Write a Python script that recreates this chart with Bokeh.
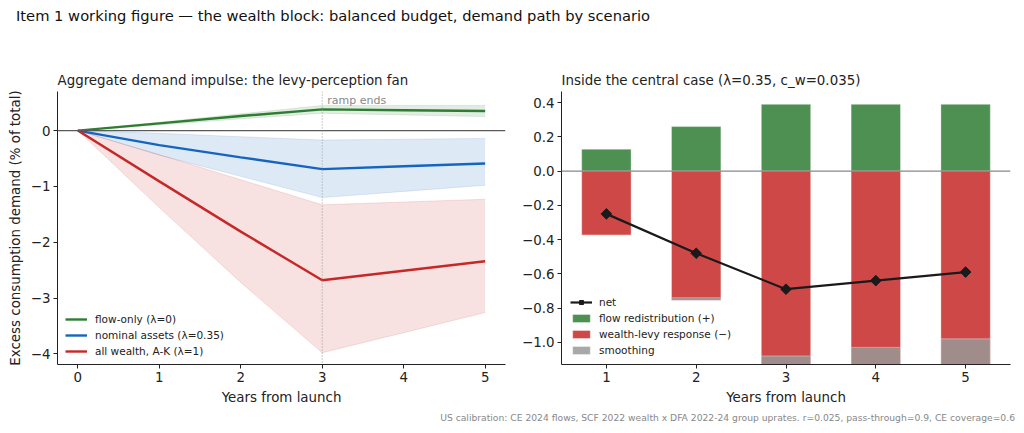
from bokeh.plotting import figure
from bokeh.models import (Range1d, Span, Label, Legend, LegendItem, FixedTicker,
                          CustomJSTickFormatter, Div)
from bokeh.layouts import row, column
from bokeh.embed import file_html
from bokeh.resources import INLINE

FONT = "DejaVu Sans"

# ---------------- data: left panel (levy-perception fan) ----------------
years_fan = [0, 1, 2, 3, 4, 5]
flow_only = [0, 0.13, 0.26, 0.38, 0.365, 0.35]
flow_only_hi = [0, 0.15, 0.30, 0.45, 0.45, 0.45]
flow_only_lo = [0, 0.10, 0.21, 0.31, 0.28, 0.25]
nominal = [0, -0.26, -0.48, -0.69, -0.64, -0.59]
nominal_hi = [0, -0.05, -0.11, -0.17, -0.155, -0.14]
nominal_lo = [0, -0.44, -0.82, -1.20, -1.09, -0.98]
allwealth = [0, -0.91, -1.81, -2.68, -2.51, -2.34]
allwealth_hi = [0, -0.43, -0.88, -1.33, -1.28, -1.23]
allwealth_lo = [0, -1.38, -2.72, -3.98, -3.62, -3.26]
fan_labels = ["flow-only (λ=0)", "nominal assets (λ=0.35)", "all wealth, A-K (λ=1)"]

# ---------------- data: right panel (central case decomposition) ----------------
years_bar = [1, 2, 3, 4, 5]
flow_redist = [0.128, 0.26, 0.39, 0.39, 0.39]
wealth_levy = [-0.375, -0.755, -1.20, -1.25, -1.30]
smoothing = [0.0, 0.015, 0.12, 0.22, 0.32]
net = [-0.25, -0.48, -0.69, -0.64, -0.59]
bar_labels = ["net", "flow redistribution (+)", "wealth-levy response (−)", "smoothing"]

GREEN, BLUE, RED = "#2e7d32", "#1565c0", "#c62828"
TXT = "#222222"


def style_axes(p):
    p.outline_line_color = None
    p.xgrid.visible = False
    p.ygrid.visible = False
    for ax in (p.xaxis[0], p.yaxis[0]):
        ax.axis_line_color = "#222222"
        ax.axis_line_width = 1
        ax.major_tick_line_color = "#222222"
        ax.major_tick_out = 4
        ax.major_tick_in = 0
        ax.minor_tick_line_color = None
        ax.major_label_text_font = FONT
        ax.major_label_text_font_size = "13.4px"
        ax.major_label_text_color = TXT
        ax.major_label_standoff = 3
        ax.axis_label_text_font = FONT
        ax.axis_label_text_font_size = "13.4px"
        ax.axis_label_text_font_style = "normal"
        ax.axis_label_text_color = TXT
    p.xaxis[0].axis_label_standoff = 5
    p.yaxis[0].axis_label_standoff = 5
    p.title.text_font = FONT
    p.title.text_font_size = "13.4px"
    p.title.text_font_style = "normal"
    p.title.text_color = TXT
    p.title.align = "left"
    p.title.standoff = 8


# ---------------- left figure ----------------
p1 = figure(width=505, height=370, output_backend="svg", toolbar_location=None,
            x_range=Range1d(-0.25, 5.25), y_range=Range1d(-4.19, 0.70),
            min_border_left=52, min_border_right=4, min_border_top=51, min_border_bottom=46,
            margin=(0, 0, 0, 4),
            title="Aggregate demand impulse: the levy-perception fan")
style_axes(p1)
p1.xaxis[0].axis_label = "Years from launch"
p1.yaxis[0].axis_label = "Excess consumption demand (% of total)"
p1.xaxis[0].ticker = FixedTicker(ticks=[0, 1, 2, 3, 4, 5])
p1.yaxis[0].ticker = FixedTicker(ticks=[-4, -3, -2, -1, 0])
p1.yaxis[0].formatter = CustomJSTickFormatter(code="return tick.toFixed(0).replace('-', '\u2212');")

line_items = []
for col, mid, hi, lo, lab in [(GREEN, flow_only, flow_only_hi, flow_only_lo, fan_labels[0]),
                              (BLUE, nominal, nominal_hi, nominal_lo, fan_labels[1]),
                              (RED, allwealth, allwealth_hi, allwealth_lo, fan_labels[2])]:
    p1.varea(x=years_fan, y1=lo, y2=hi, fill_color=col, fill_alpha=0.14)
    p1.line(years_fan, hi, line_color=col, line_alpha=0.12, line_width=1)
    p1.line(years_fan, lo, line_color=col, line_alpha=0.12, line_width=1)
    r = p1.line(years_fan, mid, line_color=col, line_width=2.4)
    line_items.append(LegendItem(label=lab, renderers=[r]))

p1.add_layout(Span(location=0, dimension="width", line_color="#5a5a5a", line_width=1.2))
p1.add_layout(Span(location=3, dimension="height", line_color="#9a9a9a", line_width=1, line_dash="1 2"))
p1.add_layout(Label(x=3, y=0.42, x_offset=5, text="ramp ends", text_font=FONT,
                    text_font_size="11px", text_color="#888888", text_baseline="bottom"))

leg1 = Legend(items=line_items, location=(8, 5), border_line_color=None,
              background_fill_alpha=0, label_text_font=FONT, label_text_font_size="10.5px",
              label_text_color=TXT, glyph_width=22, glyph_height=16, label_height=16,
              label_standoff=8, spacing=0, padding=0, margin=0)
p1.add_layout(leg1)

# ---------------- right figure ----------------
p2 = figure(width=507, height=370, output_backend="svg", toolbar_location=None,
            x_range=Range1d(0.5, 5.5), y_range=Range1d(-1.13, 0.465),
            min_border_left=52, min_border_right=6, min_border_top=51, min_border_bottom=46,
            margin=(0, 0, 0, 0),
            title="Inside the central case (λ=0.35, c_w=0.035)")
style_axes(p2)
p2.xaxis[0].axis_label = "Years from launch"
p2.xaxis[0].ticker = FixedTicker(ticks=years_bar)
p2.yaxis[0].ticker = FixedTicker(ticks=[-1.0, -0.8, -0.6, -0.4, -0.2, 0.0, 0.2, 0.4])
p2.yaxis[0].formatter = CustomJSTickFormatter(code="return tick.toFixed(1).replace('-', '\u2212');")

smooth_top = [l + s for l, s in zip(wealth_levy, smoothing)]
rg = p2.vbar(x=years_bar, bottom=0, top=flow_redist, width=0.55, fill_color=GREEN,
             fill_alpha=0.85, line_color="white", line_width=0.6, line_alpha=0.6)
rr = p2.vbar(x=years_bar, bottom=wealth_levy, top=0, width=0.55, fill_color=RED,
             fill_alpha=0.85, line_color="white", line_width=0.6, line_alpha=0.6)
rs = p2.vbar(x=years_bar, bottom=wealth_levy, top=smooth_top, width=0.55, fill_color="#999999",
             fill_alpha=0.85, line_color="white", line_width=0.6, line_alpha=0.6)
p2.add_layout(Span(location=0, dimension="width", line_color="#888888", line_width=1.2))
rn = p2.line(years_bar, net, line_color="#1a1a1a", line_width=2.2)
rm = p2.scatter(years_bar, net, marker="square", angle=0.785398, size=7.5,
                fill_color="#1a1a1a", line_color="#1a1a1a")

leg2 = Legend(items=[LegendItem(label=bar_labels[0], renderers=[rn, rm]),
                     LegendItem(label=bar_labels[1], renderers=[rg]),
                     LegendItem(label=bar_labels[2], renderers=[rr]),
                     LegendItem(label=bar_labels[3], renderers=[rs])],
              location=(9, 6), border_line_color=None, background_fill_alpha=0,
              label_text_font=FONT, label_text_font_size="10.5px", label_text_color=TXT,
              glyph_width=22, glyph_height=10, label_height=16, label_standoff=7,
              spacing=0, padding=0, margin=0)
p2.add_layout(leg2)

# ---------------- page texts ----------------
title_div = Div(text='<div style="padding:8px 0 0 16px;width:990px">Item 1 working figure — the wealth block: '
                     'balanced budget, demand path by scenario</div>',
                width=1016, height=40, margin=(0, 0, 0, 0),
                styles={"font-family": FONT, "font-size": "14.7px", "line-height": "16px",
                        "color": "#111111"})
foot_div = Div(text='<div style="text-align:right;width:1015px">US calibration: CE 2024 flows, '
                    'SCF 2022 wealth x DFA 2022-24 group uprates. r=0.025, pass-through=0.9, '
                    'CE coverage=0.6</div>',
               width=1016, height=16, margin=(0, 0, 0, 0),
               styles={"font-family": FONT, "font-size": "9.2px", "line-height": "16px",
                       "color": "#888888"})

layout = column(title_div, row(p1, p2, spacing=0), foot_div, spacing=0)

open("out.html", "w").write(file_html(layout, INLINE))
